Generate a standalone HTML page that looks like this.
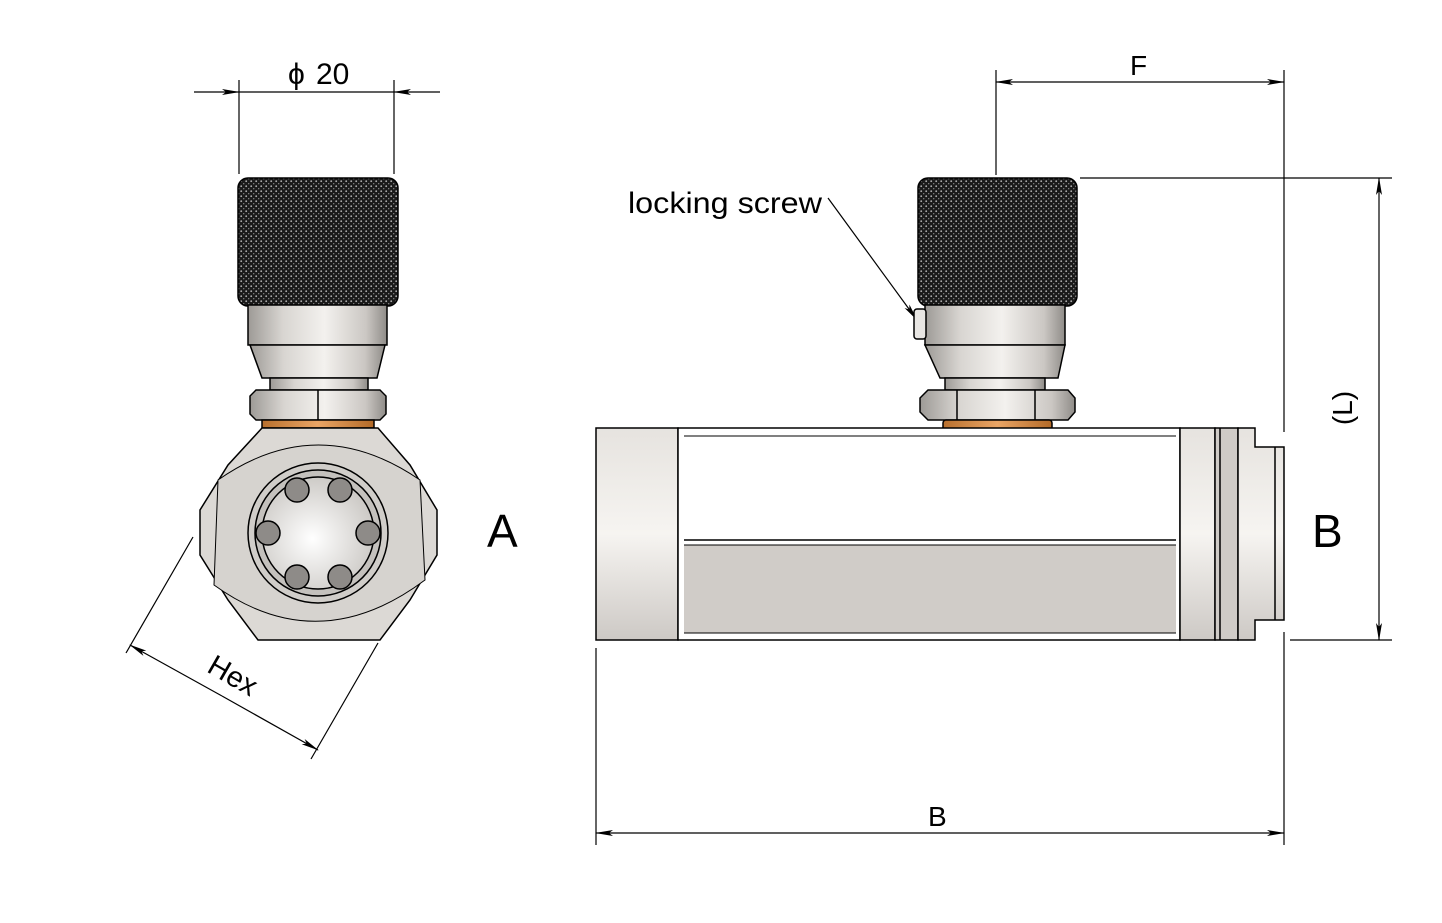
<!DOCTYPE html>
<html><head><meta charset="utf-8"><style>
html,body{margin:0;padding:0;background:#fff;}
svg{display:block;}
text{font-family:"Liberation Sans",sans-serif;fill:#000;}
</style></head><body>
<svg width="1442" height="923" viewBox="0 0 1442 923" xmlns="http://www.w3.org/2000/svg">
<defs>
<pattern id="kn" width="5" height="5" patternUnits="userSpaceOnUse">
<rect width="5" height="5" fill="#1a1a1a"/>
<circle cx="1.2" cy="1.2" r="0.9" fill="#b0b0b0"/>
<circle cx="3.7" cy="3.7" r="0.7" fill="#888"/>
</pattern>
<linearGradient id="met" x1="0" x2="1" y1="0" y2="0">
<stop offset="0" stop-color="#9d9a96"/><stop offset="0.25" stop-color="#d8d5d1"/><stop offset="0.55" stop-color="#f3f1ee"/><stop offset="0.85" stop-color="#cbc7c3"/><stop offset="1" stop-color="#8f8c88"/>
</linearGradient>
<linearGradient id="metv" x1="0" x2="0" y1="0" y2="1">
<stop offset="0" stop-color="#e6e3df"/><stop offset="0.5" stop-color="#f6f4f1"/><stop offset="1" stop-color="#cdc9c5"/>
</linearGradient>
<linearGradient id="cu" x1="0" x2="1"><stop offset="0" stop-color="#b8702e"/><stop offset="0.5" stop-color="#eaa565"/><stop offset="1" stop-color="#b36a28"/></linearGradient>
<radialGradient id="glass" cx="0.45" cy="0.55" r="0.6"><stop offset="0" stop-color="#fff"/><stop offset="1" stop-color="#c9c6c2"/></radialGradient>
<marker id="ar" markerWidth="18" markerHeight="8" refX="17" refY="4" orient="auto" markerUnits="userSpaceOnUse"><path d="M0,1 L18,4 L0,7 L4,4z" fill="#000"/></marker>
</defs>
<g stroke="#000" stroke-width="1.2" fill="none">
<line x1="239" y1="80" x2="239" y2="174"/><line x1="394" y1="80" x2="394" y2="174"/>
<line x1="194" y1="92" x2="239" y2="92" marker-end="url(#ar)"/>
<line x1="440" y1="92" x2="394" y2="92" marker-end="url(#ar)"/>
<line x1="239" y1="92" x2="394" y2="92"/>
<line x1="193" y1="537" x2="126" y2="653"/><line x1="378" y1="643" x2="311" y2="759"/>
<line x1="222" y1="696" x2="130" y2="645" marker-end="url(#ar)"/>
<line x1="222" y1="696" x2="318" y2="750" marker-end="url(#ar)"/>
<line x1="996" y1="70" x2="996" y2="175"/>
<line x1="1284" y1="70" x2="1284" y2="432"/>
<line x1="1140" y1="82" x2="996" y2="82" marker-end="url(#ar)"/>
<line x1="1140" y1="82" x2="1284" y2="82" marker-end="url(#ar)"/>
<line x1="1080" y1="178" x2="1392" y2="178"/>
<line x1="1290" y1="640" x2="1392" y2="640"/>
<line x1="1379" y1="400" x2="1379" y2="178" marker-end="url(#ar)"/>
<line x1="1379" y1="400" x2="1379" y2="640" marker-end="url(#ar)"/>
<line x1="596" y1="648" x2="596" y2="845"/>
<line x1="1284" y1="632" x2="1284" y2="845"/>
<line x1="940" y1="833" x2="596" y2="833" marker-end="url(#ar)"/>
<line x1="940" y1="833" x2="1284" y2="833" marker-end="url(#ar)"/>
<line x1="828" y1="198" x2="917" y2="320" marker-end="url(#ar)"/>
</g>
<text x="288" y="84" font-size="30">ϕ</text><text x="316" y="84" font-size="30">20</text>
<text x="1130" y="75" font-size="28">F</text>
<text x="928" y="826" font-size="28">B</text>
<text x="628" y="213" font-size="30" textLength="194" lengthAdjust="spacingAndGlyphs">locking screw</text>
<text x="487" y="547" font-size="46">A</text>
<text x="1312" y="547" font-size="46">B</text>
<text transform="translate(1352,408) rotate(-90)" font-size="28" text-anchor="middle">(L)</text>
<text transform="translate(228,684) rotate(30)" font-size="29" text-anchor="middle">Hex</text>

<g stroke="#000" stroke-width="1.5">
<rect x="238" y="178" width="160" height="128" rx="10" fill="url(#kn)"/>
<rect x="248" y="305" width="139" height="40" fill="url(#met)"/>
<path d="M250,345 L385,345 L377,378 L262,378z" fill="url(#met)"/>
<rect x="270" y="378" width="98" height="12" fill="url(#met)"/>
<path d="M256,390 L380,390 L386,396 L386,414 L380,420 L256,420 L250,414 L250,396z" fill="url(#met)"/>
<line x1="318" y1="390" x2="318" y2="420"/>
<rect x="262" y="420" width="112" height="8" fill="url(#cu)"/>
<path d="M262,428 L378,428 L410,465 L437,510 L437,555 L410,600 L380,640 L258,640 L228,600 L200,555 L200,510 L228,465z" fill="#dcd9d5"/>
<path d="M218,480 Q318,410 420,480 L425,580 Q318,660 214,585z" fill="#d6d3cf" stroke-width="1"/>
<circle cx="318" cy="533" r="70" fill="#d0cdc9"/>
<circle cx="318" cy="533" r="63" fill="#c4c1bd"/>
<circle cx="318" cy="533" r="56" fill="url(#glass)"/>
<g fill="#8e8b88">
<circle cx="297" cy="490" r="12"/><circle cx="340" cy="490" r="12"/>
<circle cx="268" cy="533" r="12"/><circle cx="368" cy="533" r="12"/>
<circle cx="297" cy="577" r="12"/><circle cx="340" cy="577" r="12"/>
</g>
</g>

<g stroke="#000" stroke-width="1.5">
<rect x="918" y="178" width="159" height="128" rx="10" fill="url(#kn)"/>
<rect x="925" y="305" width="140" height="40" fill="url(#met)"/>
<rect x="914" y="309" width="12" height="30" rx="3" fill="#e8e6e3"/>
<path d="M925,345 L1065,345 L1058,378 L940,378z" fill="url(#met)"/>
<rect x="945" y="378" width="100" height="12" fill="url(#met)"/>
<path d="M928,390 L1068,390 L1075,398 L1075,412 L1068,420 L928,420 L920,412 L920,398z" fill="url(#met)"/>
<line x1="957" y1="390" x2="957" y2="420"/><line x1="1035" y1="390" x2="1035" y2="420"/>
<rect x="943" y="420" width="109" height="13" rx="3" fill="url(#cu)"/>
<rect x="596" y="428" width="82" height="212" fill="url(#metv)"/>
<rect x="678" y="428" width="502" height="212" fill="#fff"/>
<rect x="684" y="545" width="492" height="88" fill="#d0ccc8" stroke="none"/>
<line x1="684" y1="540" x2="1176" y2="540"/>
<line x1="684" y1="545" x2="1176" y2="545" stroke-width="1"/>
<line x1="684" y1="436" x2="1176" y2="436" stroke-width="1"/>
<line x1="684" y1="633" x2="1176" y2="633" stroke-width="1"/>
<rect x="1180" y="428" width="35" height="212" fill="url(#metv)"/>
<rect x="1215" y="428" width="23" height="212" fill="#cfcbc7"/>
<line x1="1220" y1="428" x2="1220" y2="640"/>
<path d="M1238,428 L1255,428 L1255,447 L1284,447 L1284,620 L1255,620 L1255,640 L1238,640z" fill="url(#metv)"/>
<line x1="1275" y1="447" x2="1275" y2="620"/>
</g>
</svg>
</body></html>
